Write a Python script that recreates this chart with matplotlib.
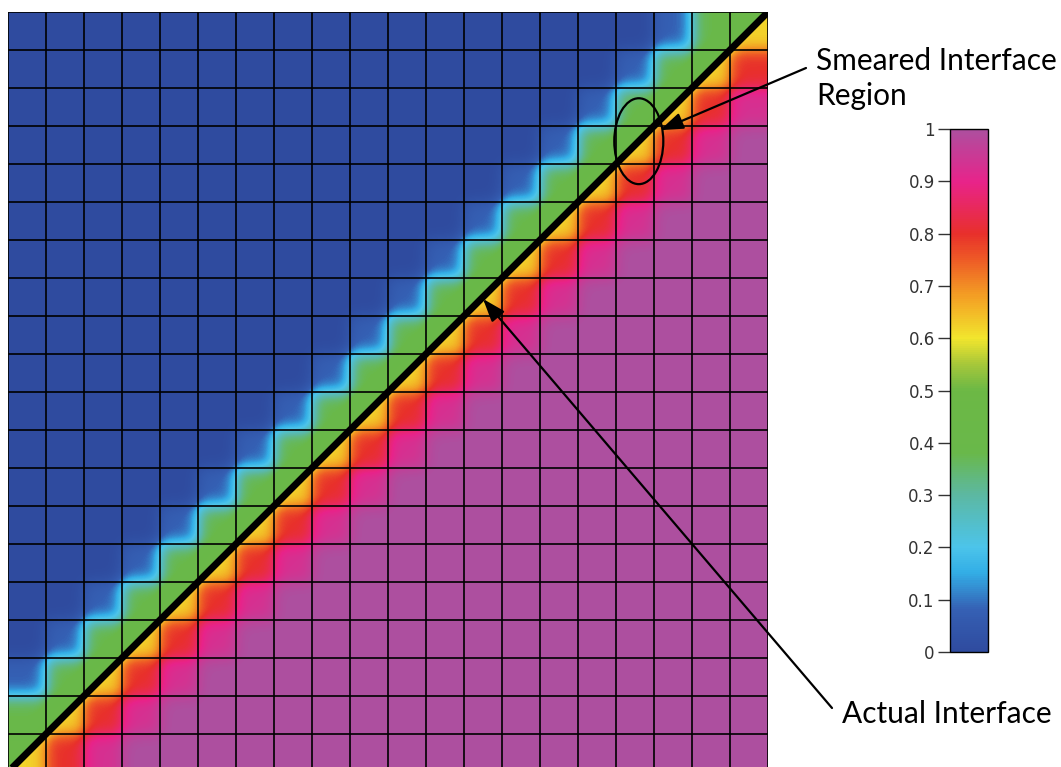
import numpy as np
import matplotlib
matplotlib.use("Agg")
import matplotlib.pyplot as plt
from matplotlib.colors import LinearSegmentedColormap
from matplotlib.patches import Ellipse, Polygon

# cells per side of the square mesh
n_cells = 20

# cell volume fraction by diagonal offset (cell column - cell row)
cell_offsets = [-3, -2, -1, 0, 1, 2, 3]
cell_fraction = [0.0, 0.08, 0.38, 0.5, 0.8, 0.93, 1.0]
# the cut cells on the diagonal, as seen from either side of the interface
diag_above = 0.43
diag_below = 0.62

# the sharp interface runs corner to corner
interface_x = [0, 20]
interface_y = [0, 20]

# colour scale
cbar_ticks = [0, 0.1, 0.2, 0.3, 0.4, 0.5, 0.6, 0.7, 0.8, 0.9, 1.0]
cbar_labels = ["0", "0.1", "0.2", "0.3", "0.4", "0.5", "0.6", "0.7", "0.8", "0.9", "1"]
cmap_stops = [0.0, 0.08, 0.15, 0.2, 0.3, 0.38, 0.5, 0.55, 0.6, 0.68, 0.75, 0.8, 0.9, 1.0]
cmap_colors = ["#2f4b9f", "#3560b4", "#33aee6", "#4cc4ea", "#5cb8a2", "#69b84a",
               "#6cb845", "#a6c73a", "#f2e52d", "#f3a024", "#ee5c26", "#e8302b",
               "#e8238a", "#ad4f9f"]

W, H = 1061, 767
SUB = 2  # sub-samples per cell, controls how soft the cell edges look


def fx(px):
    return px / W


def fy(py):
    return (H - py) / H


def build_field(diag):
    i = np.arange(n_cells)
    k = np.subtract.outer(i, i).T  # row j, column i -> i - j
    k = np.clip(k, cell_offsets[0], cell_offsets[-1]) - cell_offsets[0]
    vals = np.asarray(cell_fraction, dtype=float)
    vals[-cell_offsets[0]] = diag
    return np.kron(vals[k], np.ones((SUB, SUB)))


def plot():
    fig = plt.figure(figsize=(W / 100, H / 100), dpi=100)
    cmap = LinearSegmentedColormap.from_list("vof", list(zip(cmap_stops, cmap_colors)))

    ax = fig.add_axes([fx(8), fy(772), 760 / W, 760 / H])
    ext = [0, n_cells, 0, n_cells]
    halves = [(diag_above, [(0, 0), (0, n_cells), (n_cells, n_cells)]),
              (diag_below, [(0, 0), (n_cells, 0), (n_cells, n_cells)])]
    for diag, corners in halves:
        im = ax.imshow(build_field(diag), origin="lower", extent=ext, cmap=cmap,
                       vmin=0, vmax=1, interpolation="gaussian",
                       interpolation_stage="data")
        im.set_clip_path(Polygon(corners, closed=True, transform=ax.transData))
    for v in range(n_cells + 1):
        ax.axvline(v, color="black", lw=1.2)
        ax.axhline(v, color="black", lw=1.2)
    ax.plot(interface_x, interface_y, color="black", lw=5, solid_capstyle="butt")
    ax.add_patch(Ellipse((16.6, 16.6), 1.29, 2.26, fill=False, ec="black", lw=1.6))
    ax.set_xlim(0, n_cells)
    ax.set_ylim(0, n_cells)
    ax.set_aspect("auto")
    ax.axis("off")

    arrow = dict(arrowstyle="-|>,head_length=0.7,head_width=0.25", color="black",
                 lw=1.6, mutation_scale=20, shrinkA=0, shrinkB=0)
    ax.annotate("", xy=(17.16, 16.89), xycoords="data",
                xytext=(fx(806), fy(68)), textcoords="figure fraction",
                arrowprops=arrow, annotation_clip=False)
    ax.annotate("", xy=(12.5, 12.45), xycoords="data",
                xytext=(fx(832), fy(708)), textcoords="figure fraction",
                arrowprops=arrow, annotation_clip=False)

    font = dict(family=["Lato", "DejaVu Sans"], fontsize=21.5, color="black", va="baseline")
    fig.text(fx(816), fy(70), "Smeared Interface", **font)
    fig.text(fx(816), fy(105), "Region", **font)
    fig.text(fx(842), fy(723), "Actual Interface", **font)

    cax = fig.add_axes([fx(950), fy(652), 38 / W, 523 / H])
    cb = fig.colorbar(im, cax=cax, ticks=cbar_ticks)
    cb.ax.yaxis.set_ticks_position("left")
    cb.ax.set_yticklabels(cbar_labels)
    cb.ax.tick_params(length=9, width=1, color="#333333", labelsize=12,
                      labelcolor="#333333", pad=2)
    cb.outline.set_linewidth(1)

    fig.savefig("out.png", dpi=100)


if __name__ == "__main__":
    plot()
